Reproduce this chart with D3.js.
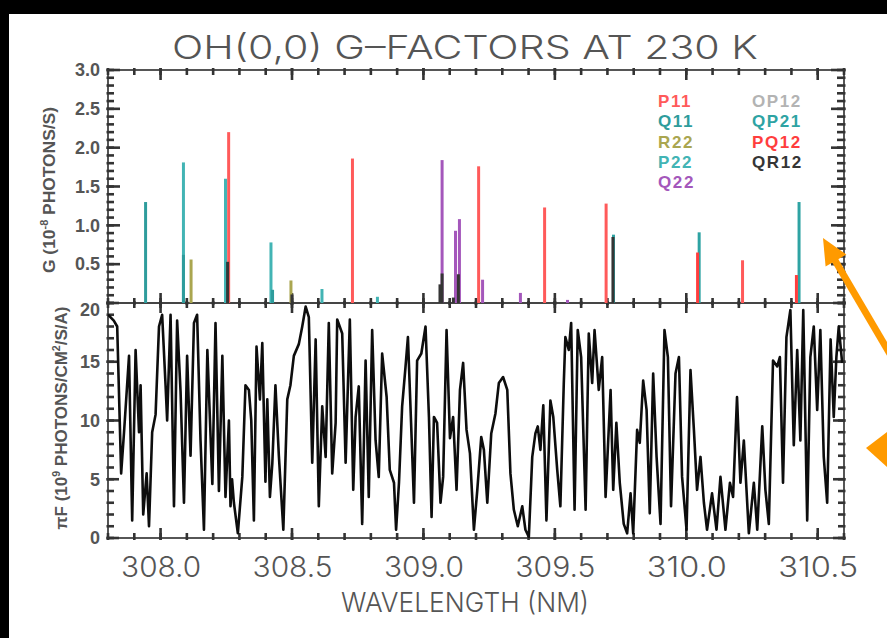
<!DOCTYPE html>
<html><head><meta charset="utf-8">
<script src="https://cdn.jsdelivr.net/npm/d3@7"></script>
<style>
html,body{margin:0;padding:0;background:#fff;}
svg{display:block;}
</style></head>
<body>
<svg id="chart" width="887" height="638"></svg>
<script>
// ---------------- data ----------------
const chartTitle = "OH(0,0) G\u2013FACTORS AT 230 K";
const xTitle = "WAVELENGTH (NM)";
const xTickValues = [308.0, 308.5, 309.0, 309.5, 310.0, 310.5];
const gTickValues = [0.5, 1.0, 1.5, 2.0, 2.5, 3.0];
const fluxTickValues = [0, 5, 10, 15, 20];

const seriesNames  = ["P11", "Q11", "R22", "P22", "Q22", "OP12", "QP21", "PQ12", "QR12"];
const seriesColors = ["#ff5a5a", "#2e9c9c", "#aaa650", "#42b4b4", "#a457bb", "#b3b3b3", "#2ea3a3", "#ff3d3d", "#353535"];

// [wavelength nm, g-factor]
const P11  = [[308.259, 2.20], [308.730, 1.86], [309.210, 1.76], [309.461, 1.23], [309.695, 1.28], [310.214, 0.55]];
const Q11  = [[307.943, 1.30], [308.087, 0.62], [308.426, 0.17]];
const R22  = [[308.116, 0.56], [308.496, 0.29]];
const P22  = [[308.087, 1.81], [308.247, 1.60], [308.420, 0.78], [308.614, 0.18], [308.825, 0.08]];
const Q22  = [[309.071, 1.84], [309.122, 0.93], [309.137, 1.08], [309.225, 0.30], [309.369, 0.13], [309.548, 0.04]];
const OP12 = [];
const QP21 = [[309.723, 0.88], [310.049, 0.91], [310.429, 1.30]];
const PQ12 = [[310.043, 0.65], [310.419, 0.36]];
const QR12 = [[308.255, 0.53], [308.500, 0.11], [309.063, 0.24], [309.071, 0.38], [309.114, 0.07], [309.133, 0.37], [309.721, 0.85]];
const seriesData = [P11, Q11, R22, P22, Q22, OP12, QP21, PQ12, QR12];

// solar spectrum: [wavelength nm, flux]
const spectrum = [
[307.800,19.0],[307.822,18.5],[307.835,18.0],[307.850,5.5],[307.861,9.0],[307.880,15.5],[307.892,1.5],[307.905,16.0],
[307.918,9.0],[307.924,13.0],[307.934,2.0],[307.947,5.5],[307.956,1.0],[307.968,9.0],[307.981,10.5],[307.994,18.0],
[308.006,19.0],[308.019,13.0],[308.025,10.0],[308.038,19.0],[308.051,2.7],[308.063,18.5],[308.076,12.5],[308.089,3.0],
[308.101,15.5],[308.114,7.0],[308.127,18.3],[308.139,19.0],[308.152,8.3],[308.165,0.7],[308.178,16.0],[308.197,4.6],
[308.209,18.3],[308.222,4.0],[308.235,15.5],[308.247,3.5],[308.260,10.0],[308.266,2.7],[308.272,5.0],[308.279,3.0],
[308.294,0.4],[308.311,5.2],[308.323,13.0],[308.336,12.6],[308.345,10.0],[308.355,1.5],[308.365,16.3],[308.378,11.8],
[308.387,16.6],[308.399,4.8],[308.406,11.8],[308.416,3.5],[308.425,6.3],[308.437,13.0],[308.450,7.0],[308.467,0.7],
[308.482,11.8],[308.494,13.0],[308.507,15.5],[308.526,16.5],[308.539,18.0],[308.552,19.7],[308.564,18.8],[308.577,6.4],
[308.590,16.9],[308.602,2.7],[308.615,11.2],[308.628,6.9],[308.640,18.3],[308.653,5.5],[308.666,9.8],[308.672,18.6],
[308.691,17.4],[308.704,6.4],[308.720,18.6],[308.733,4.1],[308.742,10.3],[308.754,12.9],[308.767,1.2],[308.780,15.1],
[308.792,3.5],[308.805,17.7],[308.818,8.3],[308.830,5.2],[308.843,15.7],[308.860,12.0],[308.872,5.8],[308.888,4.7],
[308.896,0.7],[308.907,4.7],[308.919,11.2],[308.932,14.6],[308.941,17.1],[308.953,9.8],[308.964,3.0],[308.976,15.1],
[308.992,15.7],[309.008,18.0],[309.021,10.3],[309.031,1.8],[309.040,10.3],[309.052,9.8],[309.065,3.0],[309.075,5.2],
[309.088,17.7],[309.101,8.5],[309.113,10.3],[309.126,4.1],[309.139,12.6],[309.151,14.9],[309.164,9.2],[309.177,7.2],
[309.192,0.7],[309.205,4.1],[309.220,8.6],[309.230,7.5],[309.243,3.0],[309.258,8.9],[309.274,10.6],[309.287,13.2],
[309.303,13.7],[309.319,12.6],[309.331,5.5],[309.344,2.4],[309.359,1.0],[309.376,2.7],[309.388,0.7],[309.401,0.1],
[309.414,6.9],[309.426,8.9],[309.435,9.5],[309.445,7.5],[309.456,11.3],[309.468,1.5],[309.483,11.7],[309.494,10.3],
[309.509,5.8],[309.521,2.7],[309.534,13.2],[309.540,17.1],[309.553,16.0],[309.562,18.3],[309.575,2.4],[309.587,17.7],
[309.600,15.4],[309.617,2.4],[309.629,17.4],[309.642,13.2],[309.651,17.7],[309.667,12.6],[309.680,15.4],[309.693,3.5],
[309.712,12.6],[309.722,4.1],[309.734,9.8],[309.747,4.7],[309.762,1.2],[309.775,0.4],[309.788,3.8],[309.798,0.4],
[309.813,9.2],[309.823,8.1],[309.836,13.4],[309.849,10.9],[309.861,2.1],[309.874,14.0],[309.887,6.9],[309.902,1.2],
[309.917,17.7],[309.930,15.4],[309.942,2.7],[309.959,14.0],[309.972,15.4],[309.984,5.2],[310.001,0.7],[310.016,14.3],
[310.029,9.2],[310.041,4.1],[310.054,6.9],[310.067,3.0],[310.079,0.7],[310.098,3.8],[310.115,0.7],[310.130,5.2],
[310.149,0.7],[310.166,4.7],[310.178,3.5],[310.193,12.0],[310.206,4.7],[310.219,8.3],[310.238,0.4],[310.257,4.7],
[310.270,0.7],[310.289,9.5],[310.301,4.1],[310.314,1.2],[310.330,15.1],[310.346,14.6],[310.356,15.4],[310.368,4.7],
[310.381,17.1],[310.396,19.4],[310.409,7.9],[310.422,16.0],[310.434,8.3],[310.445,19.4],[310.460,1.5],[310.472,15.4],
[310.485,18.0],[310.498,10.9],[310.510,17.7],[310.523,6.9],[310.536,3.0],[310.549,16.9],[310.561,10.3],[310.571,15.4],
[310.580,18.0],[310.593,14.9]
];

// ---------------- drawing ----------------
const W = 887, H = 638;
const svg = d3.select("#chart");
svg.append("rect").attr("width", W).attr("height", H).attr("fill", "#fff");

const x  = d3.scaleLinear().domain([307.8, 310.6]).range([108, 844]);
const yG = d3.scaleLinear().domain([0, 3]).range([303, 70]);
const yF = d3.scaleLinear().domain([0, 20]).range([538, 303]);

const axisColor = "#333";

// frames
[[70, 303], [303, 538]].forEach(([t, b]) => {
  svg.append("rect").attr("x", 108).attr("y", t).attr("width", 844 - 108).attr("height", b - t)
    .attr("fill", "none").attr("stroke", "#444").attr("stroke-width", 1.8);
});

const tickLayer = svg.append("g");
function tickGroup() {
  return tickLayer.append("g").style("stroke", axisColor).style("stroke-width", "2.6px");
}
// vertical-axis tick marks (dir +1 = to the right)
function vTicks(xPos, scale, values, len, dir) {
  tickGroup().selectAll("line").data(values).join("line")
    .attr("x1", xPos - dir * 1.5).attr("x2", xPos + dir * len)
    .attr("y1", d => scale(d)).attr("y2", d => scale(d));
}
// horizontal-axis tick marks (dir +1 = downward)
function hTicks(yPos, values, len, dir) {
  tickGroup().selectAll("line").data(values).join("line")
    .attr("y1", yPos - dir * 2).attr("y2", yPos + dir * len)
    .attr("x1", d => x(d)).attr("x2", d => x(d));
}
// top panel
vTicks(108, yG, yG.ticks(30), 6, 1);  vTicks(108, yG, gTickValues, 12, 1);
vTicks(844, yG, yG.ticks(30), 7, -1); vTicks(844, yG, gTickValues, 13, -1);
// bottom panel
vTicks(108, yF, yF.ticks(20), 6, 1);  vTicks(108, yF, fluxTickValues, 11, 1);
vTicks(844, yF, yF.ticks(20), 6, -1); vTicks(844, yF, fluxTickValues, 11, -1);
// x ticks
[[70, 1], [303, -1], [303, 1], [538, -1]].forEach(([yp, dir]) => {
  hTicks(yp, x.ticks(28), 5, dir);
  hTicks(yp, xTickValues, 10, dir);
});

// tick labels via d3 axes
function noLines(g) { g.select(".domain").remove(); g.selectAll(".tick line").remove(); }
const gLeft = svg.append("g").attr("transform", "translate(108,0)")
  .call(d3.axisLeft(yG).tickValues(gTickValues).tickSize(0).tickPadding(8).tickFormat(d3.format(".1f")))
  .call(noLines);
const fLeft = svg.append("g").attr("transform", "translate(108,0)")
  .call(d3.axisLeft(yF).tickValues(fluxTickValues).tickSize(0).tickPadding(8).tickFormat(d3.format("d")))
  .call(noLines);
[gLeft, fLeft].forEach(g => g.selectAll("text")
  .attr("font-family", "'Liberation Sans', Arial, sans-serif")
  .attr("font-weight", "bold").attr("font-size", 18).attr("fill", "#555"));
fLeft.selectAll(".tick").filter(d => d === 20).select("text").attr("dy", "0.72em");

const xBottomMaj = svg.append("g").attr("transform", "translate(0,538)")
  .call(d3.axisBottom(x).tickValues(xTickValues).tickSize(0).tickPadding(19).tickFormat(d3.format(".1f")))
  .call(noLines);
xBottomMaj.selectAll("text")
  .attr("font-family", "Inter, 'DejaVu Sans', sans-serif").attr("font-weight", 300)
  .attr("font-size", 28).attr("fill", "#555")
  .attr("textLength", 80).attr("lengthAdjust", "spacingAndGlyphs");

// sticks (g-factors)
const sticks = [];
seriesData.forEach((arr, i) => arr.forEach(d => sticks.push({w: d[0], g: d[1], c: seriesColors[i]})));
sticks.sort((a, b) => b.g - a.g);
svg.append("g").selectAll("line").data(sticks).join("line")
  .attr("x1", d => x(d.w)).attr("x2", d => x(d.w))
  .attr("y1", yG(0)).attr("y2", d => yG(d.g))
  .attr("stroke", d => d.c).attr("stroke-width", 3);

// legend
const legendCols = [[0, 1, 2, 3, 4], [5, 6, 7, 8]];
const legendX = [658, 752];
legendCols.forEach((col, ci) => col.forEach((si, ri) => {
  svg.append("text").attr("x", legendX[ci]).attr("y", 107 + ri * 20.3)
    .attr("font-family", "'Liberation Sans', Arial, sans-serif").attr("font-weight", "bold")
    .attr("font-size", 17).attr("letter-spacing", 1.6)
    .attr("fill", seriesColors[si]).text(seriesNames[si]);
}));

// spectrum
svg.append("clipPath").attr("id", "clipF").append("rect")
  .attr("x", 108).attr("y", 303).attr("width", 736).attr("height", 235);
svg.append("path").datum(spectrum)
  .attr("clip-path", "url(#clipF)")
  .attr("d", d3.line().x(d => x(d[0])).y(d => yF(d[1])))
  .attr("fill", "none").attr("stroke", "#0d0d0d").attr("stroke-width", 2.6)
  .attr("stroke-linejoin", "round");

// titles
svg.append("text").attr("x", 465).attr("y", 59).attr("text-anchor", "middle")
  .attr("font-family", "Inter, 'DejaVu Sans', sans-serif").attr("font-weight", 300)
  .attr("font-size", 33).attr("fill", "#555")
  .attr("textLength", 586).attr("lengthAdjust", "spacingAndGlyphs").text(chartTitle);
svg.append("text").attr("x", 465).attr("y", 612).attr("text-anchor", "middle")
  .attr("font-family", "Inter, 'DejaVu Sans', sans-serif").attr("font-weight", 300)
  .attr("font-size", 27).attr("fill", "#555")
  .attr("textLength", 248).attr("lengthAdjust", "spacingAndGlyphs").text(xTitle);

function yTitle(cx, cy, len, parts) {
  const t = svg.append("text").attr("transform", `translate(${cx},${cy}) rotate(-90)`)
    .attr("text-anchor", "middle")
    .attr("font-family", "'Liberation Sans', Arial, sans-serif").attr("font-weight", "bold")
    .attr("font-size", 16).attr("fill", "#555")
    .attr("textLength", len).attr("lengthAdjust", "spacingAndGlyphs");
  parts.forEach(p => {
    const s = t.append("tspan").text(p.t);
    if (p.sup) s.attr("font-size", 10).attr("dy", -7);
    if (p.after) s.attr("dy", 7);
  });
}
yTitle(55, 190, 166, [{t: "G (10"}, {t: "-8", sup: true}, {t: " PHOTONS/S)", after: true}]);
yTitle(67, 418, 223, [{t: "\u03c0F (10"}, {t: "9", sup: true}, {t: " PHOTONS/CM", after: true},
                     {t: "2", sup: true}, {t: "/S/A)", after: true}]);

// black border of the photographed slide
svg.append("rect").attr("x", 0).attr("y", 0).attr("width", W).attr("height", 14).attr("fill", "#000");
svg.append("rect").attr("x", 0).attr("y", 0).attr("width", 9).attr("height", H).attr("fill", "#000");

// orange arrows
const orange = "#ff9a00";
svg.append("line").attr("x1", 890).attr("y1", 354).attr("x2", 833).attr("y2", 257)
  .attr("stroke", orange).attr("stroke-width", 7);
svg.append("polygon").attr("points", "823,238 846.4,254.5 825.6,266.5").attr("fill", orange);
svg.append("polygon").attr("points", "866,448 887,432 887,467").attr("fill", orange);
</script>
</body></html>
